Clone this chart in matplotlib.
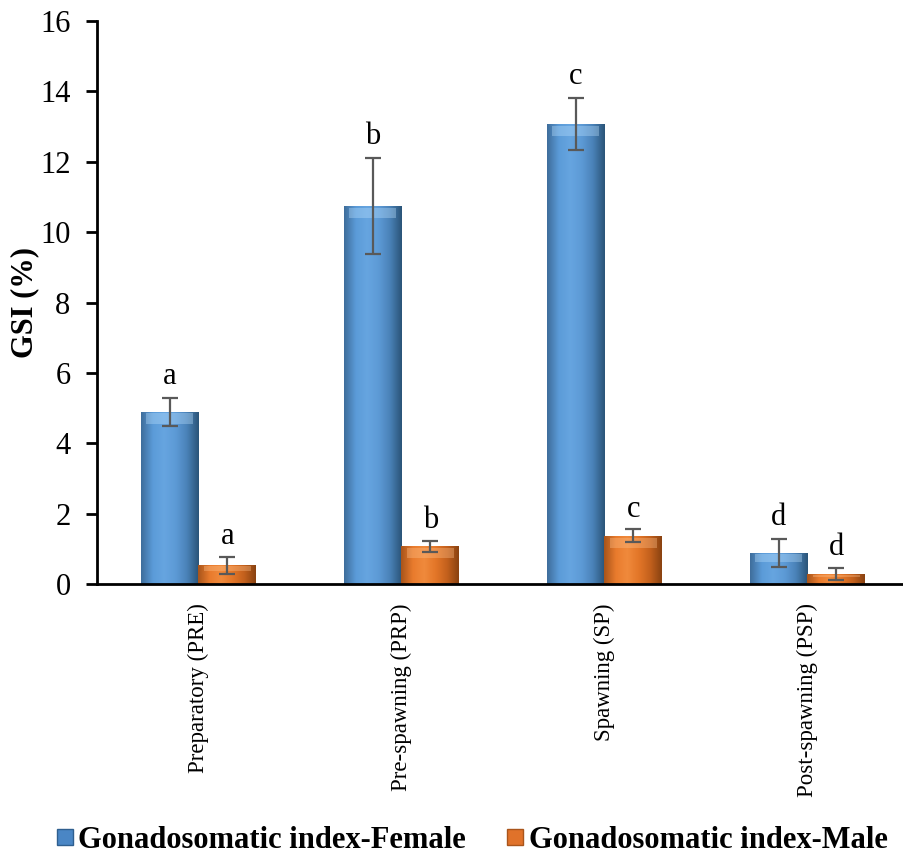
import numpy as np
import matplotlib
matplotlib.use("Agg")
import matplotlib.pyplot as plt
from matplotlib.colors import LinearSegmentedColormap
from matplotlib.lines import Line2D

plt.rcParams['font.family'] = ['Liberation Serif', 'DejaVu Serif']

categories = ["Preparatory (PRE)", "Pre-spawning (PRP)", "Spawning (SP)", "Post-spawning (PSP)"]
female = [4.9, 10.75, 13.08, 0.88]
female_err = [0.4, 1.36, 0.74, 0.4]
male = [0.53, 1.07, 1.37, 0.28]
male_err = [0.25, 0.16, 0.19, 0.18]
female_letters = ["a", "b", "c", "d"]
male_letters = ["a", "b", "c", "d"]
yticks = [0, 2, 4, 6, 8, 10, 12, 14, 16]

W, H = 904, 860
fig = plt.figure(figsize=(W / 100, H / 100), dpi=100)
ax = fig.add_axes([97 / W, (860 - 584) / H, (904 - 97) / W, (584 - 21) / H])

x = np.arange(len(categories))
bw = 0.285
spacing = 203.0
ax.set_xlim(-0.5, -0.5 + (904 - 97) / spacing)
ax.set_ylim(0, 16)

blue_cmap = LinearSegmentedColormap.from_list(
    "b", ["#3f6e9c", "#5b9bd8", "#66a5e0", "#5d9ad6", "#4a82b8", "#2b5579"])
orange_cmap = LinearSegmentedColormap.from_list(
    "o", ["#a9551b", "#e97b2d", "#f08a3c", "#e37628", "#c4611d", "#8a4311"])
grad = np.linspace(0, 1, 64).reshape(1, -1)


def draw_bars(xs, vals, cmap, top_col):
    bars = ax.bar(xs, vals, bw, color="none", edgecolor="none", zorder=2)
    for b in bars:
        x0, y0 = b.get_x(), b.get_y()
        w, h = b.get_width(), b.get_height()
        im = ax.imshow(grad, cmap=cmap, extent=[x0, x0 + w, y0, y0 + h],
                       aspect="auto", zorder=2, interpolation="bicubic")
        im.set_clip_path(b)
        # top bevel highlight
        th = min(0.35, h * 0.3)
        ax.fill_between([x0 + w * 0.1, x0 + w * 0.9], y0 + h - th, y0 + h - th * 0.15,
                        color=top_col, alpha=0.35, lw=0, zorder=3)
    return bars


draw_bars(x - bw / 2, female, blue_cmap, "#bfe3ff")
draw_bars(x + bw / 2, male, orange_cmap, "#ffc48f")

ekw = dict(fmt="none", ecolor="#595959", elinewidth=1.6, capsize=6, capthick=1.6, zorder=5)
ax.errorbar(x - bw / 2, female, yerr=female_err, **ekw)
ax.errorbar(x + bw / 2, male, yerr=male_err, **ekw)

for xi, v, e, t in zip(x - bw / 2, female, female_err, female_letters):
    ax.annotate(t, (xi, v + e), xytext=(0, 10), textcoords="offset points",
                ha="center", va="baseline", fontsize=22)
for xi, v, e, t in zip(x + bw / 2, male, male_err, male_letters):
    ax.annotate(t, (xi, v + e), xytext=(0, 9), textcoords="offset points",
                ha="center", va="baseline", fontsize=22)

ax.set_yticks(yticks)
ax.set_yticklabels([str(t) for t in yticks], fontsize=22)
ax.set_xticks(x)
ax.set_xticklabels(categories, rotation=90, fontsize=16.5)
ax.tick_params(axis="x", length=0, pad=14)
ax.tick_params(axis="y", length=8, width=2, direction="out", pad=11)
for s in ["top", "right"]:
    ax.spines[s].set_visible(False)
ax.spines["left"].set_linewidth(2)
ax.spines["bottom"].set_linewidth(2)
ax.spines["left"].set_zorder(6)
ax.spines["bottom"].set_zorder(6)
ax.set_ylabel("GSI (%)", fontsize=22, fontweight="bold")
ax.yaxis.set_label_coords(-0.072, 0.5)

handles = [
    Line2D([], [], marker="s", ls="none", markersize=11, markerfacecolor="#4a86c5", markeredgecolor="#2f5f8f"),
    Line2D([], [], marker="s", ls="none", markersize=11, markerfacecolor="#e0722a", markeredgecolor="#a9551b"),
]
fig.legend(handles, ["Gonadosomatic index-Female", "Gonadosomatic index-Male"],
           loc="center", bbox_to_anchor=(0.52, 1 - 840 / H), ncol=2, frameon=False,
           prop={"family": "Liberation Serif", "weight": "bold", "size": 22},
           handletextpad=0.05, columnspacing=1.2, handlelength=0.8)

fig.savefig("out.png", dpi=100)
